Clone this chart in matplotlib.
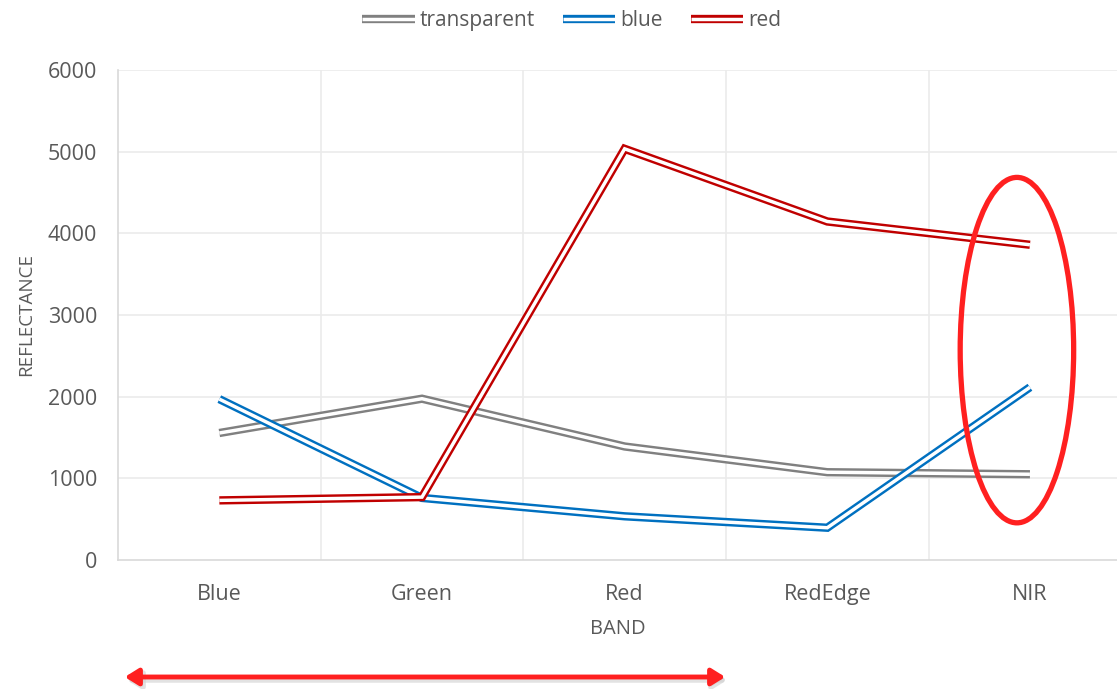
import matplotlib
matplotlib.use("Agg")
import matplotlib.pyplot as plt
import matplotlib.patheffects as pe
from matplotlib.patches import Ellipse, FancyArrowPatch
import numpy as np

# data
bands = ["Blue", "Green", "Red", "RedEdge", "NIR"]
transparent = [1555, 1975, 1390, 1075, 1050]
blue = [1970, 760, 535, 395, 2115]
red = [730, 770, 5035, 4145, 3860]

series_names = ["transparent", "blue", "red"]
series_colors = ["#808080", "#0070C0", "#C00000"]

plt.rcParams['font.family'] = ['Open Sans', 'DejaVu Sans']
text_color = "#595959"
grid_color = "#EBEBEB"

fig = plt.figure(figsize=(11.17, 6.89), dpi=100)
ax = fig.add_axes([118 / 1117, 1 - 560 / 689, 1 - 118 / 1117, 490 / 689])

x = np.arange(len(bands))
for name, vals, col in zip(series_names, [transparent, blue, red], series_colors):
    ax.plot(x, vals, color="white", lw=2.5, label=name,
            solid_joinstyle="miter", solid_capstyle="butt",
            path_effects=[pe.Stroke(linewidth=6.0, foreground=col, capstyle="butt"),
                          pe.Normal()],
            zorder=3)

ax.set_ylim(0, 6000)
ax.set_xlim(-0.5, (1117 - 220) / 202.5)
ax.set_yticks(np.arange(0, 6001, 1000))
ax.set_xticks(x)
ax.set_xticklabels(bands)

# gridlines: horizontal at ticks, vertical at category boundaries
for yv in np.arange(1000, 6001, 1000):
    ax.axhline(yv, color=grid_color, lw=1.2, zorder=0)
for xv in np.arange(0.5, len(bands), 1.0):
    ax.axvline(xv, color=grid_color, lw=1.2, zorder=0)

for side in ["top", "right"]:
    ax.spines[side].set_visible(False)
for side in ["left", "bottom"]:
    ax.spines[side].set_color("#D9D9D9")
    ax.spines[side].set_linewidth(1.2)
ax.tick_params(length=0, labelsize=15.5, colors=text_color)
ax.tick_params(axis="x", pad=17)
ax.tick_params(axis="y", pad=15)

ax.set_xlabel("BAND", fontsize=14.5, color=text_color, labelpad=10)
ax.set_ylabel("REFLECTANCE", fontsize=13.5, color=text_color, labelpad=9)

fig.legend(loc="upper center", bbox_to_anchor=(0.512, 1.012), ncol=3,
           frameon=False, fontsize=15, handlelength=2.5, columnspacing=1.35,
           handletextpad=0.25, labelcolor=text_color)

# red ellipse around NIR
ell = Ellipse(((1017 - 220) / 202.5, 2570), width=0.56, height=4230,
              fill=False, edgecolor="#FF2020", lw=3.8, zorder=4, clip_on=False)
ax.add_patch(ell)

# red double-headed arrow below the axis, with a soft shadow
fig.add_artist(FancyArrowPatch(
    (124 / 1117, 1 - 680 / 689), (730 / 1117, 1 - 680 / 689),
    transform=fig.transFigure, arrowstyle="<|-|>,head_length=8,head_width=5",
    color="#D0D0D0", lw=4, alpha=0.6))
fig.add_artist(FancyArrowPatch(
    (122 / 1117, 1 - 677 / 689), (728 / 1117, 1 - 677 / 689),
    transform=fig.transFigure, arrowstyle="<|-|>,head_length=8,head_width=5",
    color="#FF2020", lw=3.5))

fig.savefig("out.png", dpi=100, facecolor="white")
